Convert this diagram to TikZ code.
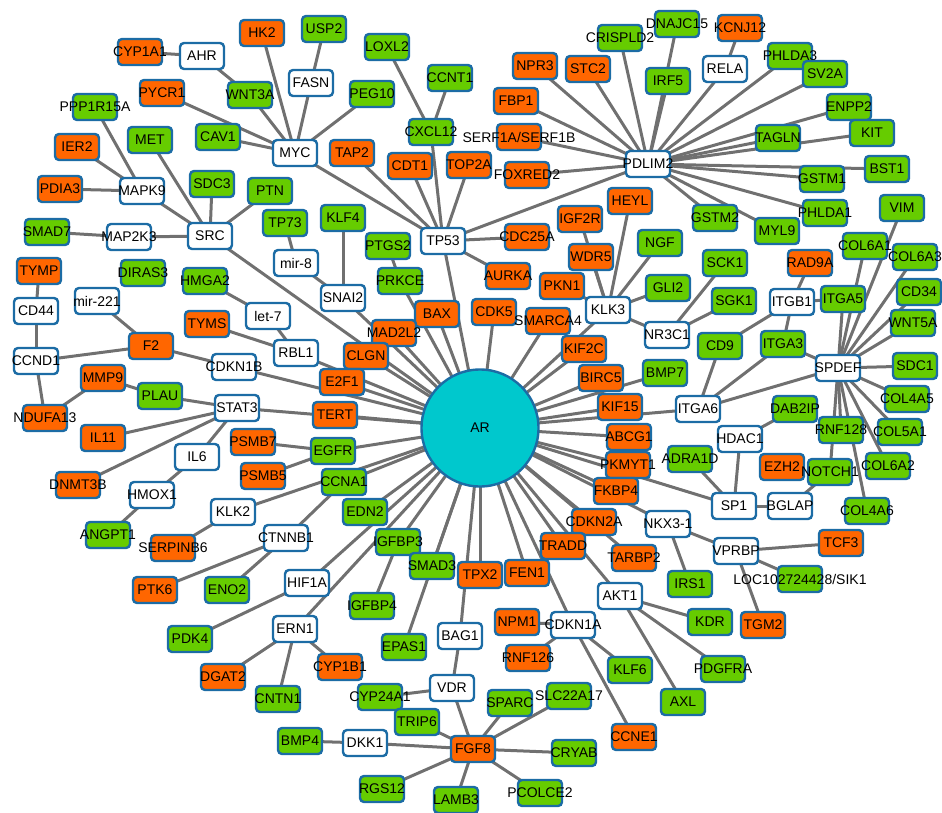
\documentclass[tikz,border=0pt]{standalone}
\usepackage{fontspec}
\setmainfont{Liberation Sans}
\pgfdeclarelayer{bg}
\pgfsetlayers{bg,main}
\definecolor{bdr}{RGB}{28,108,165}
\definecolor{org}{RGB}{255,102,0}
\definecolor{grn}{RGB}{102,204,0}
\definecolor{edg}{RGB}{112,112,112}
\definecolor{cya}{RGB}{0,200,205}
\tikzset{
  gbox/.style={rectangle,rounded corners=4pt,draw=bdr,line width=2.4pt,minimum width=44pt,minimum height=26pt,inner sep=1pt,font=\fontsize{14}{16}\selectfont},
  edge/.style={draw=edg,line width=3pt},
}
\newcommand\gn[5]{\node[gbox,fill=#4] (#1) at (#2,#3) {\makebox[0pt]{#5}};}
\begin{document}
\begin{tikzpicture}[x=1pt,y=-1pt]
\useasboundingbox (0,0) rectangle (942,813);
% AR
\node[circle,draw=bdr,fill=cya,line width=2.4pt,minimum size=117pt,font=\fontsize{14}{16}\selectfont] (AR) at (480,428) {AR};
% top-left
\gn{CYP1A1}{140}{52}{org}{CYP1A1}
\gn{AHR}{202}{56}{white}{AHR}
\gn{HK2}{262}{33}{org}{HK2}
\gn{USP2}{324}{29}{grn}{USP2}
\gn{FASN}{311}{83}{white}{FASN}
\gn{WNT3A}{250}{95}{grn}{WNT3A}
\gn{PYCR1}{162}{93}{org}{PYCR1}
\gn{PPP1R15A}{95}{107}{grn}{PPP1R15A}
\gn{CAV1}{218}{137}{grn}{CAV1}
\gn{MET}{150}{140}{grn}{MET}
\gn{MYC}{295}{153}{white}{MYC}
\gn{IER2}{77}{147}{org}{IER2}
\gn{SDC3}{212}{184}{grn}{SDC3}
\gn{PTN}{270}{191}{grn}{PTN}
\gn{PDIA3}{60}{189}{org}{PDIA3}
\gn{MAPK9}{142}{191}{white}{MAPK9}
% top-middle
\gn{LOXL2}{387}{47}{grn}{LOXL2}
\gn{CCNT1}{450}{78}{grn}{CCNT1}
\gn{PEG10}{372}{94}{grn}{PEG10}
\gn{NPR3}{535}{66}{org}{NPR3}
\gn{STC2}{588}{69}{org}{STC2}
\gn{CRISPLD2}{620}{38}{grn}{CRISPLD2}
\gn{FBP1}{516}{101}{org}{FBP1}
\gn{CXCL12}{431}{132}{grn}{CXCL12}
\gn{SERF}{519}{137}{org}{SERF1A/SERF1B}
\gn{TAP2}{352}{153}{org}{TAP2}
\gn{CDT1}{410}{166}{org}{CDT1}
\gn{TOP2A}{469}{165}{org}{TOP2A}
\gn{FOXRED2}{527}{175}{org}{FOXRED2}
% top-right
\gn{DNAJC15}{677}{24}{grn}{DNAJC15}
\gn{KCNJ12}{740}{28}{org}{KCNJ12}
\gn{RELA}{725}{69}{white}{RELA}
\gn{IRF5}{668}{81}{grn}{IRF5}
\gn{PHLDA3}{790}{56}{grn}{PHLDA3}
\gn{SV2A}{825}{74}{grn}{SV2A}
\gn{ENPP2}{849}{107}{grn}{ENPP2}
\gn{KIT}{872}{133}{grn}{KIT}
\gn{TAGLN}{778}{138}{grn}{TAGLN}
\gn{PDLIM2}{648}{164}{white}{PDLIM2}
\gn{BST1}{887}{169}{grn}{BST1}
\gn{GSTM1}{822}{179}{grn}{GSTM1}
\gn{VIM}{902}{208}{grn}{VIM}
\gn{PHLDA1}{825}{213}{grn}{PHLDA1}
\gn{GSTM2}{715}{218}{grn}{GSTM2}
\gn{MYL9}{777}{231}{grn}{MYL9}
\gn{HEYL}{630}{201}{org}{HEYL}
% right
\gn{NGF}{660}{243}{grn}{NGF}
\gn{COL6A1}{865}{246}{grn}{COL6A1}
\gn{COL6A3}{915}{257}{grn}{COL6A3}
\gn{SCK1}{725}{263}{grn}{SCK1}
\gn{RAD9A}{810}{263}{org}{RAD9A}
\gn{GLI2}{668}{288}{grn}{GLI2}
\gn{CD34}{919}{292}{grn}{CD34}
\gn{SGK1}{734}{301}{grn}{SGK1}
\gn{ITGB1}{792}{302}{white}{ITGB1}
\gn{ITGA5}{843}{299}{grn}{ITGA5}
\gn{NR3C1}{667}{335}{white}{NR3C1}
\gn{WNT5A}{913}{323}{grn}{WNT5A}
\gn{CD9}{720}{346}{grn}{CD9}
\gn{ITGA3}{783}{344}{grn}{ITGA3}
\gn{SPDEF}{838}{368}{white}{SPDEF}
\gn{SDC1}{915}{366}{grn}{SDC1}
\gn{BMP7}{665}{373}{grn}{BMP7}
\gn{COL4A5}{907}{399}{grn}{COL4A5}
\gn{ITGA6}{698}{409}{white}{ITGA6}
\gn{DAB2IP}{795}{409}{grn}{DAB2IP}
\gn{RNF128}{841}{430}{grn}{RNF128}
\gn{COL5A1}{900}{432}{grn}{COL5A1}
\gn{HDAC1}{740}{439}{white}{HDAC1}
\gn{ADRA1D}{690}{459}{grn}{ADRA1D}
\gn{EZH2}{782}{467}{org}{EZH2}
\gn{NOTCH1}{830}{472}{grn}{NOTCH1}
\gn{COL6A2}{888}{466}{grn}{COL6A2}
\gn{SP1}{734}{506}{white}{SP1}
\gn{BGLAP}{790}{506}{white}{BGLAP}
\gn{COL4A6}{867}{511}{grn}{COL4A6}
\gn{NKX}{668}{524}{white}{NKX3-1}
\gn{VPRBP}{736}{551}{white}{VPRBP}
\gn{TCF3}{841}{543}{org}{TCF3}
\gn{IRS1}{690}{584}{grn}{IRS1}
\gn{LOC}{800}{579}{grn}{LOC102724428/SIK1}
\gn{TARBP2}{634}{558}{org}{TARBP2}
\gn{AKT1}{620}{596}{white}{AKT1}
\gn{KDR}{710}{622}{grn}{KDR}
\gn{TGM2}{763}{625}{org}{TGM2}
\gn{PDGFRA}{723}{669}{grn}{PDGFRA}
\gn{AXL}{683}{702}{grn}{AXL}
\gn{KLF6}{630}{670}{grn}{KLF6}
\gn{CCNE1}{634}{737}{org}{CCNE1}
% around AR
\gn{KLF4}{343}{218}{grn}{KLF4}
\gn{PTGS2}{388}{246}{grn}{PTGS2}
\gn{TP53}{443}{241}{white}{TP53}
\gn{CDC25A}{527}{237}{org}{CDC25A}
\gn{IGF2R}{580}{219}{org}{IGF2R}
\gn{WDR5}{591}{257}{org}{WDR5}
\gn{PRKCE}{400}{281}{grn}{PRKCE}
\gn{SNAI2}{343}{298}{white}{SNAI2}
\gn{AURKA}{508}{276}{org}{AURKA}
\gn{PKN1}{562}{286}{org}{PKN1}
\gn{KLK3}{608}{310}{white}{KLK3}
\gn{BAX}{437}{314}{org}{BAX}
\gn{CDK5}{494}{312}{org}{CDK5}
\gn{SMARCA4}{548}{321}{org}{SMARCA4}
\gn{MAD2L2}{394}{333}{org}{MAD2L2}
\gn{CLGN}{366}{356}{org}{CLGN}
\gn{KIF2C}{584}{349}{org}{KIF2C}
\gn{E2F1}{342}{382}{org}{E2F1}
\gn{BIRC5}{601}{378}{org}{BIRC5}
\gn{KIF15}{620}{407}{org}{KIF15}
\gn{ABCG1}{629}{437}{org}{ABCG1}
\gn{PKMYT1}{628}{465}{org}{PKMYT1}
\gn{FKBP4}{616}{491}{org}{FKBP4}
\gn{TERT}{335}{415}{org}{TERT}
\gn{EGFR}{333}{451}{grn}{EGFR}
\gn{CCNA1}{344}{482}{grn}{CCNA1}
\gn{EDN2}{365}{512}{grn}{EDN2}
\gn{CDKN2A}{594}{522}{org}{CDKN2A}
\gn{TRADD}{563}{546}{org}{TRADD}
\gn{IGFBP3}{398}{542}{grn}{IGFBP3}
\gn{SMAD3}{432}{566}{grn}{SMAD3}
\gn{TPX2}{480}{575}{org}{TPX2}
\gn{FEN1}{527}{573}{org}{FEN1}
\gn{IGFBP4}{372}{606}{grn}{IGFBP4}
% left
\gn{SMAD7}{47}{232}{grn}{SMAD7}
\gn{MAP2K3}{129}{237}{white}{MAP2K3}
\gn{SRC}{210}{236}{white}{SRC}
\gn{TP73}{285}{223}{grn}{TP73}
\gn{mir8}{296}{263}{white}{mir-8}
\gn{TYMP}{39}{271}{org}{TYMP}
\gn{DIRAS3}{143}{273}{grn}{DIRAS3}
\gn{HMGA2}{205}{281}{grn}{HMGA2}
\gn{mir221}{97}{301}{white}{mir-221}
\gn{CD44}{36}{311}{white}{CD44}
\gn{let7}{268}{316}{white}{let-7}
\gn{TYMS}{207}{324}{org}{TYMS}
\gn{F2}{151}{346}{org}{F2}
\gn{RBL1}{296}{353}{white}{RBL1}
\gn{CCND1}{36}{361}{white}{CCND1}
\gn{CDKN1B}{234}{367}{white}{CDKN1B}
\gn{MMP9}{103}{378}{org}{MMP9}
\gn{PLAU}{160}{396}{grn}{PLAU}
\gn{STAT3}{237}{408}{white}{STAT3}
\gn{NDUFA13}{45}{418}{org}{NDUFA13}
\gn{IL11}{103}{438}{org}{IL11}
\gn{PSMB7}{253}{442}{org}{PSMB7}
\gn{IL6}{197}{457}{white}{IL6}
\gn{PSMB5}{263}{476}{org}{PSMB5}
\gn{DNMT3B}{78}{485}{org}{DNMT3B}
\gn{HMOX1}{152}{495}{white}{HMOX1}
\gn{KLK2}{233}{512}{white}{KLK2}
\gn{ANGPT1}{108}{535}{grn}{ANGPT1}
\gn{SERPINB6}{173}{548}{org}{SERPINB6}
\gn{CTNNB1}{286}{538}{white}{CTNNB1}
\gn{HIF1A}{307}{583}{white}{HIF1A}
\gn{PTK6}{155}{590}{org}{PTK6}
\gn{ENO2}{227}{590}{grn}{ENO2}
\gn{PDK4}{190}{639}{grn}{PDK4}
\gn{ERN1}{295}{629}{white}{ERN1}
\gn{DGAT2}{223}{677}{org}{DGAT2}
\gn{CNTN1}{278}{699}{grn}{CNTN1}
% bottom
\gn{BAG1}{460}{636}{white}{BAG1}
\gn{NPM1}{517}{622}{org}{NPM1}
\gn{CDKN1A}{573}{625}{white}{CDKN1A}
\gn{EPAS1}{404}{647}{grn}{EPAS1}
\gn{RNF126}{528}{658}{org}{RNF126}
\gn{CYP1B1}{340}{667}{org}{CYP1B1}
\gn{VDR}{452}{688}{white}{VDR}
\gn{CYP24A1}{380}{697}{grn}{CYP24A1}
\gn{SPARC}{510}{703}{grn}{SPARC}
\gn{SLC22A17}{569}{696}{grn}{SLC22A17}
\gn{TRIP6}{417}{722}{grn}{TRIP6}
\gn{FGF8}{473}{749}{org}{FGF8}
\gn{DKK1}{365}{743}{white}{DKK1}
\gn{BMP4}{300}{741}{grn}{BMP4}
\gn{CRYAB}{574}{753}{grn}{CRYAB}
\gn{RGS12}{382}{789}{grn}{RGS12}
\gn{LAMB3}{456}{800}{grn}{LAMB3}
\gn{PCOLCE2}{540}{793}{grn}{PCOLCE2}
\begin{pgfonlayer}{bg}
\foreach \a/\b in {
 CYP1A1/AHR,AHR/WNT3A,WNT3A/MYC,HK2/MYC,USP2/FASN,FASN/MYC,PYCR1/MYC,CAV1/MYC,PEG10/MYC,MYC/TP53,
 MET/SRC,SDC3/SRC,PTN/SRC,MAPK9/SRC,MAP2K3/SRC,SMAD7/MAP2K3,SRC/AR,PPP1R15A/MAPK9,IER2/MAPK9,PDIA3/MAPK9,
 TP73/mir8,mir8/SNAI2,KLF4/SNAI2,SNAI2/AR,HMGA2/let7,let7/RBL1,TYMS/RBL1,RBL1/AR,
 mir221/F2,F2/CCND1,F2/CDKN1B,CDKN1B/AR,TYMP/CD44,CD44/CCND1,CCND1/NDUFA13,NDUFA13/MMP9,MMP9/PLAU,PLAU/STAT3,
 STAT3/IL11,STAT3/DNMT3B,STAT3/IL6,STAT3/AR,IL6/HMOX1,HMOX1/ANGPT1,PSMB7/EGFR,PSMB5/EGFR,EGFR/AR,
 KLK2/SERPINB6,KLK2/AR,CTNNB1/PTK6,CTNNB1/ENO2,CTNNB1/CCNA1,HIF1A/PDK4,HIF1A/AR,
 ERN1/DGAT2,ERN1/CNTN1,ERN1/CYP1B1,ERN1/AR,
 EDN2/AR,CCNA1/AR,IGFBP3/AR,IGFBP4/IGFBP3,SMAD3/AR,TPX2/AR,FEN1/AR,TRADD/AR,CDKN2A/AR,AKT1/AR,CDKN1A/AR,
 BAG1/AR,EPAS1/AR,FKBP4/AR,PKMYT1/AR,ABCG1/AR,KIF15/AR,BIRC5/AR,KIF2C/AR,SMARCA4/AR,CDK5/AR,BAX/AR,
 MAD2L2/AR,CLGN/AR,E2F1/AR,TERT/AR,PRKCE/AR,PTGS2/PRKCE,TP53/AR,KLK3/AR,TARBP2/AR,NKX/AR,SP1/AR,ITGA6/AR,BMP7/AR,
 VDR/BAG1,VDR/FGF8,VDR/CYP24A1,TRIP6/FGF8,DKK1/FGF8,BMP4/DKK1,SPARC/FGF8,SLC22A17/FGF8,CRYAB/FGF8,
 RGS12/FGF8,LAMB3/FGF8,PCOLCE2/FGF8,
 CDKN1A/NPM1,CDKN1A/RNF126,CDKN1A/KLF6,CDKN1A/CCNE1,AKT1/KDR,AKT1/PDGFRA,AKT1/AXL,
 NKX/VPRBP,NKX/IRS1,VPRBP/TCF3,VPRBP/LOC,VPRBP/TGM2,
 HDAC1/DAB2IP,HDAC1/SP1,ADRA1D/SP1,SP1/BGLAP,BGLAP/NOTCH1,
 ITGB1/RAD9A,ITGB1/ITGA5,ITGB1/ITGA3,ITGB1/CD9,CD9/ITGA6,ITGA3/ITGA6,ITGA3/SPDEF,ITGA6/SPDEF,ITGA5/SPDEF,
 SPDEF/COL6A1,SPDEF/COL6A3,SPDEF/VIM,SPDEF/CD34,SPDEF/WNT5A,SPDEF/SDC1,SPDEF/COL4A5,SPDEF/COL5A1,
 SPDEF/COL6A2,SPDEF/COL4A6,SPDEF/RNF128,SPDEF/NOTCH1,
 KLK3/HEYL,KLK3/IGF2R,KLK3/WDR5,KLK3/PKN1,KLK3/NGF,KLK3/GLI2,KLK3/NR3C1,NR3C1/SCK1,NR3C1/SGK1,
 PDLIM2/NPR3,PDLIM2/STC2,PDLIM2/FBP1,PDLIM2/SERF,PDLIM2/FOXRED2,PDLIM2/CRISPLD2,PDLIM2/DNAJC15,PDLIM2/IRF5,
 PDLIM2/RELA,PDLIM2/PHLDA3,PDLIM2/SV2A,PDLIM2/ENPP2,PDLIM2/TAGLN,PDLIM2/KIT,PDLIM2/BST1,PDLIM2/GSTM1,
 PDLIM2/PHLDA1,PDLIM2/MYL9,PDLIM2/GSTM2,PDLIM2/TP53,KCNJ12/RELA,
 TP53/TAP2,TP53/CDT1,TP53/CXCL12,TP53/TOP2A,TP53/CDC25A,TP53/AURKA,CXCL12/LOXL2,CXCL12/CCNT1}
 \draw[edge] (\a.center) -- (\b.center);
\end{pgfonlayer}
\end{tikzpicture}
\end{document}
